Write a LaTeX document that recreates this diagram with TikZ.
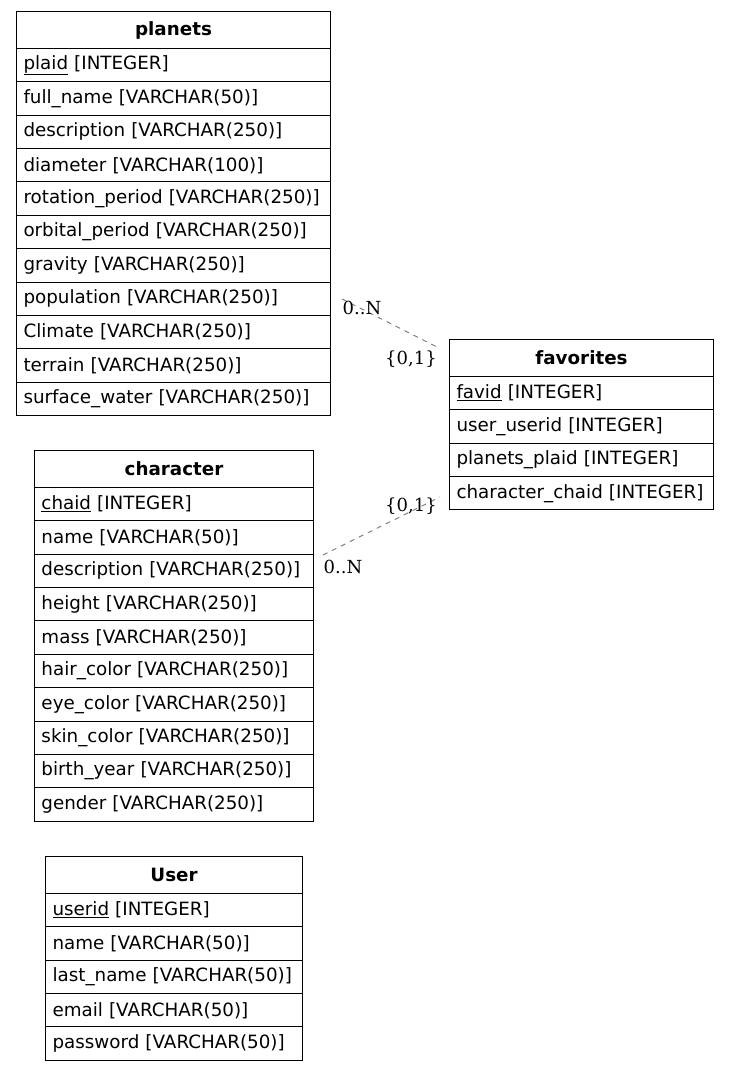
\documentclass[tikz,border=0pt]{standalone}
\usepackage{fontspec}
\setmainfont{DejaVu Sans}
\newfontfamily\labelfont{DejaVu Serif}
\begin{document}
\begin{tikzpicture}[x=1pt,y=-1pt,
  tbl/.style={draw, line width=1pt, inner xsep=7pt, inner ysep=0pt, anchor=north west},
  hdr/.style={tbl, minimum height=37pt, align=center, font=\fontsize{18.3}{22}\selectfont\bfseries},
  fld/.style={tbl, minimum height=33.36pt, align=left, font=\fontsize{18.3}{22}\selectfont},
  rel/.style={draw=gray, line width=1pt, dash pattern=on 5pt off 5pt},
  card/.style={font=\labelfont\fontsize{18}{20}\selectfont, inner sep=0pt}
]
\useasboundingbox (0,0) rectangle (729,1071);

% planets table
\node[hdr, text width=300pt] (plh) at (16,11) {planets};
\foreach \f [count=\i] in {
  \underline{plaid} [INTEGER],
  full\_name [VARCHAR(50)],
  description [VARCHAR(250)],
  diameter [VARCHAR(100)],
  rotation\_period [VARCHAR(250)],
  orbital\_period [VARCHAR(250)],
  gravity [VARCHAR(250)],
  population [VARCHAR(250)],
  Climate [VARCHAR(250)],
  terrain [VARCHAR(250)],
  surface\_water [VARCHAR(250)]}
  \node[fld, text width=300pt] (pl\i) at (16,{48+(\i-1)*33.36}) {\mbox{\f}};

% favorites table
\node[hdr, text width=250pt] (fvh) at (449,339) {favorites};
\foreach \f [count=\i] in {
  \underline{favid} [INTEGER],
  user\_userid [INTEGER],
  planets\_plaid [INTEGER],
  character\_chaid [INTEGER]}
  \node[fld, text width=250pt] (fv\i) at (449,{376+(\i-1)*33.36}) {\mbox{\f}};

% character table
\node[hdr, text width=265pt] (chh) at (34,450) {character};
\foreach \f [count=\i] in {
  \underline{chaid} [INTEGER],
  name [VARCHAR(50)],
  description [VARCHAR(250)],
  height [VARCHAR(250)],
  mass [VARCHAR(250)],
  hair\_color [VARCHAR(250)],
  eye\_color [VARCHAR(250)],
  skin\_color [VARCHAR(250)],
  birth\_year [VARCHAR(250)],
  gender [VARCHAR(250)]}
  \node[fld, text width=265pt] (ch\i) at (34,{487+(\i-1)*33.36}) {\mbox{\f}};

% User table
\node[hdr, text width=243pt] (ush) at (45,856) {User};
\foreach \f [count=\i] in {
  \underline{userid} [INTEGER],
  name [VARCHAR(50)],
  last\_name [VARCHAR(50)],
  email [VARCHAR(50)],
  password [VARCHAR(50)]}
  \node[fld, text width=243pt] (us\i) at (45,{893+(\i-1)*33.36}) {\mbox{\f}};

% relationship end points
\coordinate (plEnd) at (342,299);
\coordinate (fvTop) at (437,347);
\coordinate (chEnd) at (323,555);
\coordinate (fvBot) at (440,497);

% relationships
\draw[rel] (plEnd) -- (fvTop);
\draw[rel] (chEnd) -- (fvBot);

% cardinalities
\node[card] (c1) at (362,308) {0..N};
\node[card] (c2) at (411,359) {\{0,1\}};
\node[card] (c3) at (411,506) {\{0,1\}};
\node[card] (c4) at (343,567) {0..N};
\end{tikzpicture}
\end{document}
